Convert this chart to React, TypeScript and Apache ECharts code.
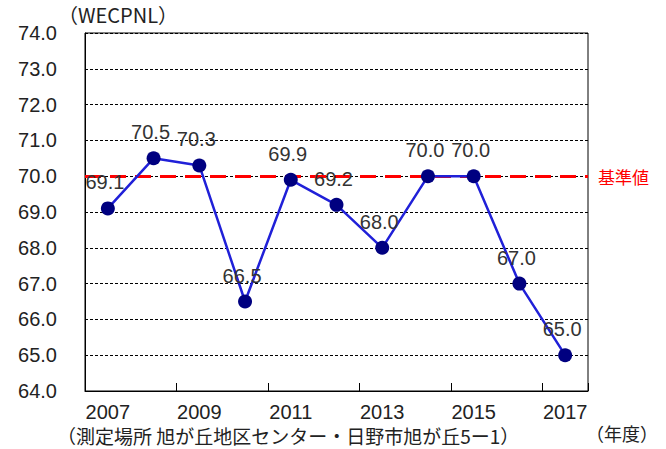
import React, { useEffect, useRef } from "react";
import * as echarts from "echarts";

const years = ["2007", "2008", "2009", "2010", "2011", "2012", "2013", "2014", "2015", "2016", "2017"];
const values = [69.1, 70.5, 70.3, 66.5, 69.9, 69.2, 68.0, 70.0, 70.0, 67.0, 65.0];
const standardValue = 70;
const yMin = 64;
const yMax = 74;
const unitLabel = "（WECPNL）";
const yearUnit = "（年度）";
const standardLabel = "基準値";
const footnote = "（測定場所 旭が丘地区センター・日野市旭が丘5ー1）";

const FONT = "'Liberation Sans', 'Noto Sans CJK JP', sans-serif";
const JFONT = "'Noto Sans CJK JP', sans-serif";

export default function App() {
  const ref = useRef<HTMLDivElement>(null);
  useEffect(() => {
    if (!ref.current) return;
    const chart = echarts.init(ref.current, undefined, { renderer: "svg" });
    chart.setOption({
      animation: false,
      backgroundColor: "#ffffff",
      grid: {
        left: 85,
        right: 78,
        top: 33,
        bottom: 58,
        show: true,
        borderColor: "#000",
        borderWidth: 1,
        backgroundColor: "transparent",
      },
      xAxis: {
        type: "category",
        data: years,
        boundaryGap: true,
        axisLine: { show: true, lineStyle: { color: "#000", width: 1 } },
        axisTick: { show: true, inside: true, length: 8, interval: 1, lineStyle: { color: "#000" } },
        axisLabel: {
          interval: 1,
          color: "#222",
          fontSize: 20,
          fontFamily: FONT,
          margin: 11,
        },
        splitLine: { show: false },
      },
      yAxis: {
        type: "value",
        min: yMin,
        max: yMax,
        interval: 1,
        axisLine: { show: true, lineStyle: { color: "#000" } },
        axisTick: { show: false },
        axisLabel: {
          color: "#222",
          fontSize: 20,
          fontFamily: FONT,
          margin: 28,
          formatter: (v: number) => v.toFixed(1),
        },
        splitLine: { show: true, lineStyle: { color: "#000", width: 1, type: [3, 2] } },
      },
      series: [
        {
          type: "line",
          data: values,
          symbol: "circle",
          symbolSize: 14,
          itemStyle: { color: "#000080" },
          lineStyle: { color: "#2020d8", width: 2.5 },
          label: {
            show: true,
            position: "top",
            distance: 9,
            offset: [-3, 0],
            color: "#333",
            fontSize: 20,
            fontFamily: FONT,
            formatter: (p: any) => Number(p.value).toFixed(1),
          },
          z: 3,
          markLine: {
            silent: true,
            symbol: "none",
            z: 2,
            lineStyle: { color: "#ff0000", width: 3, type: [16, 9] },
            label: {
              show: true,
              position: "end",
              distance: 10,
              color: "#ff0000",
              fontSize: 17,
              fontFamily: JFONT,
              formatter: standardLabel,
            },
            data: [{ yAxis: standardValue }],
          },
        },
      ],
      graphic: [
        {
          type: "text",
          left: 58,
          top: 4,
          style: { text: unitLabel, fontSize: 20, fontFamily: JFONT, fill: "#222" },
        },
        {
          type: "text",
          left: 586,
          top: 424,
          style: { text: yearUnit, fontSize: 18, fontFamily: JFONT, fill: "#222" },
        },
        {
          type: "text",
          left: 57,
          top: 426,
          style: { text: footnote, fontSize: 19, fontFamily: JFONT, fill: "#222" },
        },
      ],
    });
    return () => chart.dispose();
  }, []);
  return (
    <div
      ref={ref}
      style={{ position: "fixed", left: 0, top: 0, width: 666, height: 449 }}
    />
  );
}
